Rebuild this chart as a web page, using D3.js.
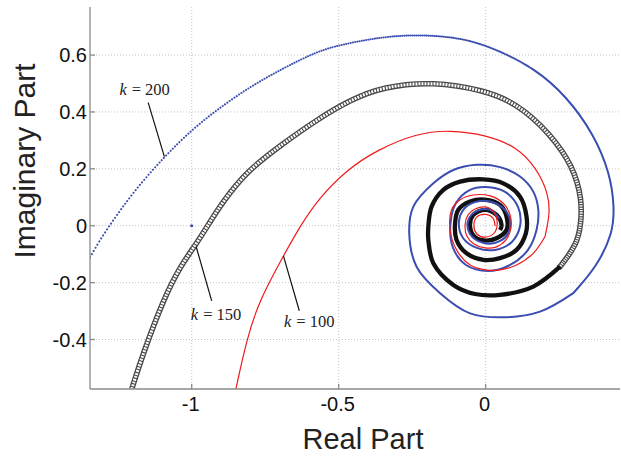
<!DOCTYPE html>
<html><head><meta charset="utf-8">
<script src="https://cdn.jsdelivr.net/npm/d3@7"></script>
<style>body{margin:0;background:#fff}</style>
</head><body>
<svg id="c" width="621" height="457"></svg>
<script>
// ---- data ----
const xTicks = [-1, -0.5, 0];
const xTickLabels = ["-1", "-0.5", "0"];
const yTicks = [-0.4, -0.2, 0, 0.2, 0.4, 0.6];
const yTickLabels = ["-0.4", "-0.2", "0", "0.2", "0.4", "0.6"];

// k = 100 (red line)
const redX = [-0.850,-0.813,-0.774,-0.688,-0.632,-0.564,-0.473,-0.371,-0.235,-0.121,0.003,0.105,0.173,0.213,0.219,0.202,0.162,0.105,0.049,-0.002,-0.053,-0.099,-0.121,-0.116,-0.087,-0.042,0.015,0.060,0.083,0.086,0.069,0.035,-0.002,-0.040,-0.064,-0.070,-0.060,-0.036,0.000,0.025,0.039,0.032,0.000,-0.030,-0.040,-0.030,0.000,0.025,0.032];
const redY = [-0.575,-0.401,-0.271,-0.106,-0.002,0.101,0.196,0.266,0.325,0.337,0.319,0.278,0.203,0.114,0.044,-0.038,-0.097,-0.138,-0.155,-0.155,-0.138,-0.085,-0.015,0.056,0.091,0.108,0.105,0.079,0.038,-0.008,-0.050,-0.075,-0.078,-0.064,-0.036,0.003,0.038,0.059,0.066,0.052,0.013,-0.022,-0.040,-0.029,-0.001,0.031,0.040,0.027,-0.001];

// k = 150 (black circles)
const blackX = [-1.204,-1.165,-1.097,-1.040,-0.983,-0.938,-0.897,-0.813,-0.688,-0.575,-0.462,-0.348,-0.178,-0.008,0.105,0.219,0.298,0.328,0.324,0.310,0.253,0.162,0.049,-0.036,-0.110,-0.178,-0.195,-0.195,-0.184,-0.144,-0.087,-0.008,0.060,0.117,0.139,0.137,0.105,0.049,-0.008,-0.065,-0.099,-0.104,-0.093,-0.053,0.003,0.049,0.071,0.071,0.037,0.000,-0.036,-0.053,-0.042,-0.002,0.037,0.054,0.049];
const blackY = [-0.574,-0.448,-0.261,-0.144,-0.062,0.013,0.080,0.192,0.290,0.372,0.442,0.489,0.507,0.477,0.431,0.325,0.208,0.091,0.003,-0.067,-0.144,-0.214,-0.243,-0.240,-0.208,-0.132,-0.050,-0.003,0.067,0.126,0.155,0.163,0.149,0.102,0.032,-0.026,-0.085,-0.114,-0.120,-0.097,-0.050,0.009,0.056,0.085,0.091,0.073,0.032,-0.015,-0.044,-0.052,-0.040,-0.003,0.038,0.056,0.038,0.003,-0.015];

// k = 200 (blue dots)
const blueX = [-1.346,-1.312,-1.278,-1.199,-1.093,-1.000,-0.915,-0.802,-0.688,-0.575,-0.496,-0.348,-0.235,-0.121,-0.008,0.162,0.276,0.366,0.423,0.438,0.433,0.378,0.298,0.185,0.060,-0.053,-0.155,-0.235,-0.260,-0.246,-0.178,-0.110,-0.031,0.049,0.117,0.162,0.179,0.173,0.144,0.083,0.008,-0.067,-0.111,-0.120,-0.101,-0.053,0.001,0.066,0.110,0.117,0.089,0.032,-0.030,-0.077,-0.091,-0.070,-0.019,0.038,0.079,0.079,0.042,-0.009,-0.053,-0.060,-0.030,0.015,0.045];
const blueY = [-0.111,-0.050,0.003,0.119,0.243,0.337,0.407,0.489,0.554,0.612,0.636,0.665,0.671,0.665,0.641,0.559,0.454,0.325,0.185,0.067,-0.026,-0.144,-0.237,-0.302,-0.322,-0.308,-0.237,-0.144,-0.026,0.067,0.149,0.196,0.214,0.206,0.173,0.120,0.056,-0.015,-0.085,-0.138,-0.159,-0.138,-0.078,0.003,0.080,0.126,0.136,0.119,0.066,-0.001,-0.057,-0.085,-0.078,-0.043,0.013,0.063,0.087,0.077,0.034,-0.022,-0.057,-0.060,-0.029,0.017,0.052,0.056,0.027];

// critical point
const critX = [-1];
const critY = [0];

// annotations
const annLabels = ["200", "150", "100"];
const annTextX = [-1.246, -1.003, -0.686];
const annTextY = [0.460, -0.331, -0.355];
const annLineX1 = [-1.148, -0.985, -0.688];
const annLineY1 = [0.433, -0.073, -0.106];
const annLineX2 = [-1.093, -0.932, -0.634];
const annLineY2 = [0.243, -0.264, -0.299];

// ---- drawing ----
const svg = d3.select("#c");
const L = 90, R = 620, T = 7, B = 389;
const x = d3.scaleLinear().domain([-1.346, 0.457]).range([L, R]);
const y = d3.scaleLinear().domain([-0.574, 0.769]).range([B, T]);

svg.append("defs").append("clipPath").attr("id", "clip")
  .append("rect").attr("x", L).attr("y", T).attr("width", R - L).attr("height", B - T);

// grid
const grid = svg.append("g");
grid.selectAll("line.vx").data(xTicks).enter().append("line")
  .attr("x1", d => x(d)).attr("x2", d => x(d)).attr("y1", T).attr("y2", B)
  .attr("stroke", "#c4c4c4").attr("stroke-width", 1).attr("stroke-dasharray", "1,2");
grid.selectAll("line.hy").data(yTicks).enter().append("line")
  .attr("y1", d => y(d)).attr("y2", d => y(d)).attr("x1", L).attr("x2", R)
  .attr("stroke", "#c4c4c4").attr("stroke-width", 1).attr("stroke-dasharray", "1,2");

const zip = (xs, ys) => xs.map((v, i) => [v, ys[i]]);
const lineBasis = d3.line().x(d => x(d[0])).y(d => y(d[1])).curve(d3.curveBasis);
const lineCR = d3.line().x(d => x(d[0])).y(d => y(d[1])).curve(d3.curveCatmullRom.alpha(0.5));
// smooth (basis) through the wide outer arc, exact (Catmull-Rom) through the tight inner turns
function buildPath(pts, nOuter) {
  const n = Math.min(nOuter, pts.length - 1);
  const a = lineBasis(pts.slice(0, n + 1));
  if (n >= pts.length - 1) return a;
  const b = lineCR(pts.slice(n));
  return a + b.replace(/^M[^A-Za-z]+/, "");
}
function partLength(pts, nOuter, k) {
  const tmp = svg.append("path").attr("d", buildPath(pts.slice(0, k + 1), nOuter));
  const len = tmp.node().getTotalLength();
  tmp.remove();
  return len;
}

const plot = svg.append("g").attr("clip-path", "url(#clip)");

// black k=150
const black = zip(blackX, blackY);
const bN = 20;
const dBlack = buildPath(black, bN);
const blackPath = plot.append("path").attr("d", dBlack).attr("fill", "none");
const bTot = blackPath.node().getTotalLength();
blackPath.remove();
const bChain = partLength(black, bN, 20);
plot.append("path").attr("d", dBlack).attr("fill", "none")
  .attr("stroke", "#484848").attr("stroke-width", 5.6)
  .attr("stroke-dasharray", `${bChain + 2},${bTot + 10}`);
{
  const arr = [];
  let s = 0;
  while (s < bChain) {
    const f = s / bChain;
    const w = 1.9 - 0.8 * Math.max(0, (f - 0.7) / 0.3);
    arr.push(w, 1.1);
    s += w + 1.1;
  }
  arr.push(0, bTot + 10);
  plot.append("path").attr("d", dBlack).attr("fill", "none")
    .attr("stroke", "#fff").attr("stroke-width", 3.0).attr("stroke-dasharray", arr.join(","));
}
plot.append("path").attr("d", dBlack).attr("fill", "none")
  .attr("stroke", "#111").attr("stroke-width", 4.3).attr("stroke-linejoin", "round")
  .attr("stroke-dasharray", `0,${bChain},${bTot + 10}`);

// blue k=200: dots that get denser, then a solid trace
const blue = zip(blueX, blueY);
const uN = 22;
const dBlue = buildPath(blue, uN);
const uDots = partLength(blue, uN, 15);
{
  const arr = [];
  let s = 0;
  while (s < uDots) {
    const f = s / uDots;
    const gap = 3.6 - 2.2 * f;
    arr.push(0.1, gap);
    s += 0.1 + gap;
  }
  arr.push(100000, 0);
  plot.append("path").attr("d", dBlue).attr("fill", "none")
    .attr("stroke", "#3b4db0").attr("stroke-width", 2.0).attr("stroke-linecap", "round")
    .attr("stroke-dasharray", arr.join(","));
}

// red k=100
const red = zip(redX, redY);
plot.append("path").attr("d", buildPath(red, 15)).attr("fill", "none")
  .attr("stroke", "#f01a1a").attr("stroke-width", 1.2);

// critical point
plot.selectAll("circle.crit").data(zip(critX, critY)).enter().append("circle")
  .attr("cx", d => x(d[0])).attr("cy", d => y(d[1])).attr("r", 1.6).attr("fill", "#3b4db0");

// axes
const ax = svg.append("g").attr("stroke", "#8a8a8a").attr("stroke-width", 1.3);
ax.append("line").attr("x1", L).attr("x2", L).attr("y1", T).attr("y2", B);
ax.append("line").attr("x1", L).attr("x2", R).attr("y1", B).attr("y2", B);
ax.selectAll("line.tx").data(xTicks).enter().append("line")
  .attr("x1", d => x(d)).attr("x2", d => x(d)).attr("y1", B).attr("y2", B - 5);
ax.selectAll("line.ty").data(yTicks).enter().append("line")
  .attr("y1", d => y(d)).attr("y2", d => y(d)).attr("x1", L).attr("x2", L + 5);

const font = "'Liberation Sans', Arial, sans-serif";
svg.selectAll("text.xt").data(xTicks).enter().append("text")
  .attr("x", d => x(d) - 1).attr("y", 411).attr("text-anchor", "middle")
  .attr("font-family", font).attr("font-size", 20).attr("fill", "#111")
  .text((d, i) => xTickLabels[i]);
svg.selectAll("text.yt").data(yTicks).enter().append("text")
  .attr("x", 87).attr("y", d => y(d)).attr("dy", "0.36em").attr("text-anchor", "end")
  .attr("font-family", font).attr("font-size", 20).attr("fill", "#111")
  .text((d, i) => yTickLabels[i]);

svg.append("text").attr("x", 363).attr("y", 449).attr("text-anchor", "middle")
  .attr("font-family", font).attr("font-size", 29).attr("fill", "#222").text("Real Part");
svg.append("text").attr("transform", "translate(35,161) rotate(-90)").attr("text-anchor", "middle")
  .attr("font-family", font).attr("font-size", 30).attr("fill", "#222").text("Imaginary Part");

// annotations
const serif = "'Liberation Serif', 'Times New Roman', serif";
annLabels.forEach((lab, i) => {
  svg.append("line")
    .attr("x1", x(annLineX1[i])).attr("y1", y(annLineY1[i]))
    .attr("x2", x(annLineX2[i])).attr("y2", y(annLineY2[i]))
    .attr("stroke", "#111").attr("stroke-width", 1.2);
  const t = svg.append("text").attr("x", x(annTextX[i])).attr("y", y(annTextY[i]))
    .attr("font-family", serif).attr("font-size", 16.5).attr("fill", "#222");
  t.append("tspan").attr("font-style", "italic").text("k");
  t.append("tspan").attr("dx", 5).text("=");
  t.append("tspan").attr("dx", 4).text(lab);
});
</script>
</body></html>
